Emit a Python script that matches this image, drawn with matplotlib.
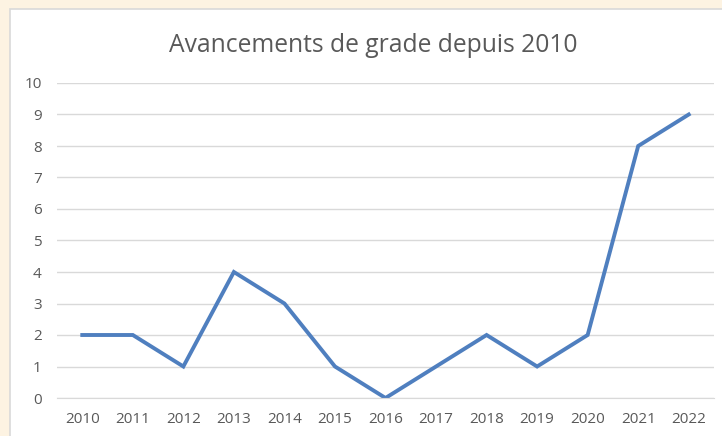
import matplotlib.pyplot as plt
from matplotlib.patches import Rectangle

years = ["2010", "2011", "2012", "2013", "2014", "2015", "2016",
         "2017", "2018", "2019", "2020", "2021", "2022"]
promotions = [2, 2, 1, 4, 3, 1, 0, 1, 2, 1, 2, 8, 9]

plt.rcParams['font.family'] = ['Open Sans', 'DejaVu Sans']

fig = plt.figure(figsize=(7.22, 4.36), dpi=100)
fig.patch.set_facecolor('#fdf3e2')
# white chart area with thin grey border
fig.add_artist(Rectangle((10 / 722, -0.05), 1.0, 1.0 - 9 / 436 + 0.05,
                         transform=fig.transFigure, facecolor='white',
                         edgecolor='#d9d9d9', linewidth=1.2, zorder=0))

ax = fig.add_axes([57 / 722, 38 / 436, 657 / 722, 315 / 436])
ax.set_facecolor('none')
x = range(len(years))
ax.plot(x, promotions, color='#4f7fbf', linewidth=2.8, solid_joinstyle='miter')
ax.set_xlim(-0.5, len(years) - 0.5)
ax.set_ylim(0, 10)
ax.set_yticks(range(0, 11))
ax.set_xticks(list(x))
ax.set_xticklabels(years)
ax.tick_params(length=0, colors='#595959', labelsize=11)
ax.tick_params(axis='y', pad=11)
ax.tick_params(axis='x', pad=10)
ax.yaxis.grid(True, color='#d9d9d9', linewidth=1)
ax.set_axisbelow(True)
for s in ax.spines.values():
    s.set_visible(False)
ax.spines['bottom'].set_visible(True)
ax.spines['bottom'].set_color('#d9d9d9')

fig.text(373 / 722, 1 - 45 / 436, "Avancements de grade depuis 2010",
         ha='center', va='center', fontsize=17.7, color='#595959')

fig.savefig("out.png", dpi=100)
